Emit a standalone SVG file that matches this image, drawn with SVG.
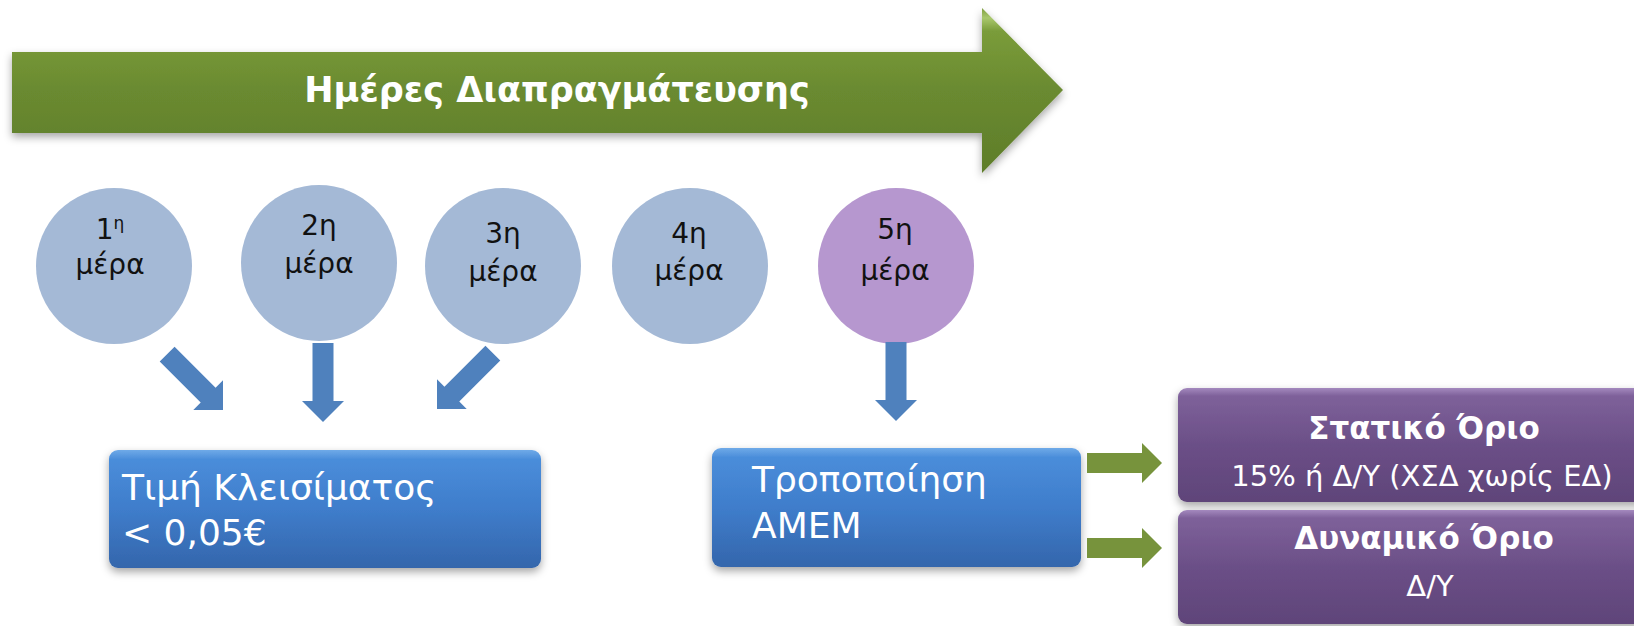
<svg xmlns="http://www.w3.org/2000/svg" width="1634" height="626" viewBox="0 0 1634 626">
  <defs>
    <style>
      text { font-family: "DejaVu Sans", "Noto Sans", sans-serif; }
      .title { font-size: 35px; font-weight: bold; fill: #ffffff; }
      .day { font-size: 28px; fill: #111111; }
      .box-text { font-size: 36px; fill: #ffffff; }
      .lim-head { font-size: 31px; font-weight: bold; fill: #ffffff; }
      .lim-sub { font-size: 29px; fill: #ffffff; }
      .circle-blue { fill: #A4B9D6; }
      .circle-purple { fill: #B697CF; }
      .blue-arrow { fill: #4F81BD; }
      .green-arrow { fill: #77933C; }
    </style>
    <linearGradient id="gGreen" x1="0" y1="0" x2="0" y2="1">
      <stop offset="0" stop-color="#7F9E40"/>
      <stop offset="0.06" stop-color="#A9C86E"/>
      <stop offset="0.14" stop-color="#7A9C3A"/>
      <stop offset="0.5" stop-color="#6A8A30"/>
      <stop offset="1" stop-color="#5E7D2A"/>
    </linearGradient>
    <linearGradient id="gBlue" x1="0" y1="0" x2="0" y2="1">
      <stop offset="0" stop-color="#6FAAE8"/>
      <stop offset="0.08" stop-color="#4A8DDA"/>
      <stop offset="0.5" stop-color="#3F7DCB"/>
      <stop offset="1" stop-color="#3466AC"/>
    </linearGradient>
    <linearGradient id="gPurple" x1="0" y1="0" x2="0" y2="1">
      <stop offset="0" stop-color="#A489BE"/>
      <stop offset="0.07" stop-color="#7E619A"/>
      <stop offset="0.5" stop-color="#6B4F87"/>
      <stop offset="1" stop-color="#5F4479"/>
    </linearGradient>
    <filter id="shadow" x="-10%" y="-20%" width="120%" height="150%">
      <feDropShadow dx="0" dy="4" stdDeviation="4" flood-color="#000000" flood-opacity="0.35"/>
    </filter>
  </defs>

  <g id="arrow-title">
    <polygon points="12,52 982,52 982,8 1063,90 982,173 982,133 12,133" fill="url(#gGreen)" filter="url(#shadow)"/>
    <text class="title" x="557" y="102" text-anchor="middle">Ημέρες Διαπραγμάτευσης</text>
  </g>

  <g id="day1">
    <circle class="circle-blue" cx="114" cy="266" r="78"/>
    <text class="day" x="110" y="239" text-anchor="middle">1<tspan font-size="17" dy="-10">η</tspan></text>
    <text class="day" x="110" y="274" text-anchor="middle">μέρα</text>
  </g>
  <g id="day2">
    <circle class="circle-blue" cx="319" cy="263" r="78"/>
    <text class="day" x="319" y="235" text-anchor="middle">2η</text>
    <text class="day" x="319" y="273" text-anchor="middle">μέρα</text>
  </g>
  <g id="day3">
    <circle class="circle-blue" cx="503" cy="266" r="78"/>
    <text class="day" x="503" y="243" text-anchor="middle">3η</text>
    <text class="day" x="503" y="281" text-anchor="middle">μέρα</text>
  </g>
  <g id="day4">
    <circle class="circle-blue" cx="690" cy="266" r="78"/>
    <text class="day" x="689" y="243" text-anchor="middle">4η</text>
    <text class="day" x="689" y="280" text-anchor="middle">μέρα</text>
  </g>
  <g id="day5">
    <circle class="circle-purple" cx="896" cy="266" r="78"/>
    <text class="day" x="895" y="239" text-anchor="middle">5η</text>
    <text class="day" x="895" y="280" text-anchor="middle">μέρα</text>
  </g>

  <g id="box-close-price">
    <rect x="109" y="450" width="432" height="118" rx="9" fill="url(#gBlue)" filter="url(#shadow)"/>
    <text class="box-text" x="122" y="500">Τιμή Κλεισίματος</text>
    <text class="box-text" x="122" y="545">&lt; 0,05€</text>
  </g>

  <g id="box-amem">
    <rect x="712" y="448" width="369" height="119" rx="9" fill="url(#gBlue)" filter="url(#shadow)"/>
    <text class="box-text" x="752" y="492">Τροποποίηση</text>
    <text class="box-text" x="752" y="538">ΑΜΕΜ</text>
  </g>

  <g id="box-static">
    <rect x="1178" y="388" width="492" height="114" rx="9" fill="url(#gPurple)" filter="url(#shadow)"/>
    <text class="lim-head" x="1424" y="439" text-anchor="middle">Στατικό Όριο</text>
    <text class="lim-sub" x="1422" y="486" text-anchor="middle">15% ή Δ/Υ (ΧΣΔ χωρίς ΕΔ)</text>
  </g>

  <g id="box-dynamic">
    <rect x="1178" y="510" width="492" height="114" rx="9" fill="url(#gPurple)" filter="url(#shadow)"/>
    <text class="lim-head" x="1424" y="549" text-anchor="middle">Δυναμικό Όριο</text>
    <text class="lim-sub" x="1430" y="596" text-anchor="middle">Δ/Υ</text>
  </g>

  <g id="connectors">
    <polygon class="blue-arrow" transform="translate(223,410) rotate(-45)" points="-10.5,-79 10.5,-79 10.5,-21 21,-21 0,0 -21,-21 -10.5,-21"/>
    <polygon class="blue-arrow" transform="translate(323,422)" points="-10.5,-79 10.5,-79 10.5,-21 21,-21 0,0 -21,-21 -10.5,-21"/>
    <polygon class="blue-arrow" transform="translate(437,409) rotate(45)" points="-10.5,-79 10.5,-79 10.5,-21 21,-21 0,0 -21,-21 -10.5,-21"/>
    <polygon class="blue-arrow" transform="translate(896,421)" points="-10.5,-79 10.5,-79 10.5,-21 21,-21 0,0 -21,-21 -10.5,-21"/>
    <polygon class="green-arrow" transform="translate(1162,463)" points="-75,-10 -20,-10 -20,-20 0,0 -20,20 -20,10 -75,10"/>
    <polygon class="green-arrow" transform="translate(1162,548)" points="-75,-10 -20,-10 -20,-20 0,0 -20,20 -20,10 -75,10"/>
  </g>
</svg>
